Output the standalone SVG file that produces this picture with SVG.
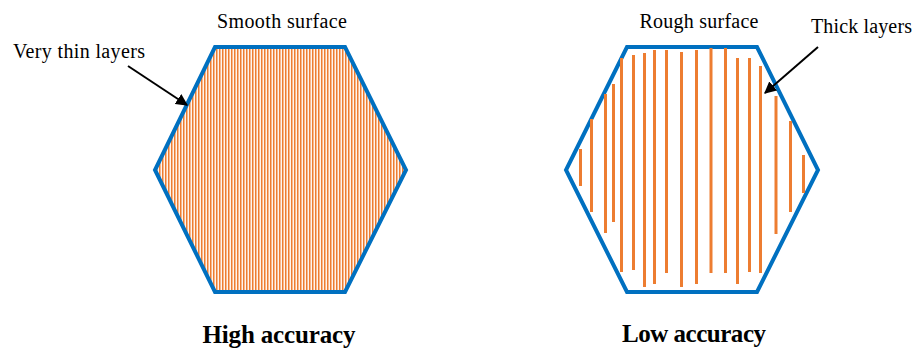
<svg xmlns="http://www.w3.org/2000/svg" width="915" height="349" viewBox="0 0 915 349">
<style>
.lbl{font-family:"Liberation Serif","Times New Roman",serif;font-size:20px;fill:#000}
.ttl{font-family:"Liberation Serif","Times New Roman",serif;font-size:25px;font-weight:bold;fill:#000}
.hex{stroke:#0070C0;stroke-width:4;stroke-linejoin:miter}
.layer{stroke:#ED7D31;stroke-width:3}
.arr{stroke:#000;stroke-width:2;fill:none}
</style>
<defs>
<pattern id="thin" x="0" y="0" width="3" height="10" patternUnits="userSpaceOnUse">
<rect width="3" height="10" fill="#FFF4EC"/>
<rect x="0" width="1.5" height="10" fill="#ED7D31"/>
</pattern>
<marker id="ah" viewBox="0 0 10 10" refX="9" refY="5" markerWidth="6" markerHeight="6" markerUnits="strokeWidth" orient="auto">
<path d="M0,0 L10,5 L0,10 z" fill="#000"/>
</marker>
</defs>
<rect width="915" height="349" fill="#fff"/>
<g id="high-accuracy">
<polygon class="hex" fill="url(#thin)" points="215,47 345,47 406,170 345,292 215,292 155,170"/>
</g>
<g id="low-accuracy">
<polygon class="hex" fill="#fff" points="627,47 757,47 818,170 757,292 627,292 566,170"/>
<g class="layer">
<line x1="580.5" y1="149" x2="580.5" y2="186"/>
<line x1="591.5" y1="119" x2="591.5" y2="212"/>
<line x1="605.5" y1="94" x2="605.5" y2="233"/>
<line x1="613.5" y1="84" x2="613.5" y2="222"/>
<line x1="621.5" y1="58" x2="621.5" y2="272"/>
<line x1="633.5" y1="55" x2="633.5" y2="270"/>
<line x1="644.5" y1="53" x2="644.5" y2="287"/>
<line x1="654.5" y1="50" x2="654.5" y2="284"/>
<line x1="666.5" y1="50" x2="666.5" y2="273"/>
<line x1="681.5" y1="52" x2="681.5" y2="287"/>
<line x1="696.5" y1="50" x2="696.5" y2="284"/>
<line x1="711" y1="48" x2="711" y2="273"/>
<line x1="725.5" y1="48" x2="725.5" y2="273"/>
<line x1="737.5" y1="58" x2="737.5" y2="284"/>
<line x1="749.5" y1="58" x2="749.5" y2="272"/>
<line x1="760.5" y1="66" x2="760.5" y2="273"/>
<line x1="776" y1="96" x2="776" y2="234"/>
<line x1="790.5" y1="121" x2="790.5" y2="212"/>
<line x1="803.5" y1="155" x2="803.5" y2="193"/>
</g>
</g>
<g id="connectors">
<line class="arr" x1="128" y1="66" x2="187" y2="105" marker-end="url(#ah)"/>
<line class="arr" x1="818" y1="47" x2="765" y2="93" marker-end="url(#ah)"/>
</g>
<g id="labels">
<text class="lbl" x="282" y="28" text-anchor="middle" textLength="130">Smooth surface</text>
<text class="lbl" x="699" y="28" text-anchor="middle" textLength="119">Rough surface</text>
<text class="lbl" x="13" y="58" textLength="132">Very thin layers</text>
<text class="lbl" x="811" y="33" textLength="101">Thick layers</text>
<text class="ttl" x="279" y="343" text-anchor="middle" textLength="153">High accuracy</text>
<text class="ttl" x="694" y="342" text-anchor="middle" textLength="144">Low accuracy</text>
</g>
</svg>
